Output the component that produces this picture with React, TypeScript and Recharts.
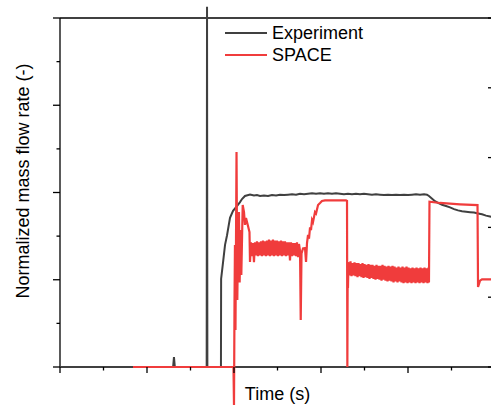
import React from 'react';
import { LineChart, Line, XAxis, YAxis, Legend } from 'recharts';

const FONT = '"Liberation Sans", Arial, Helvetica, sans-serif';
const GRAY = '#404040';
const RED = '#f03c3c';
const AXIS = '#000';

// tick positions (no tick labels in the original)
const timeTicks = [0, 0.5, 1, 1.5, 2, 2.5, 3, 3.5, 4, 4.5, 5];
const leftTicks = [0, 0.5, 1, 1.5, 2, 2.5, 3, 3.5, 4];
const rightTicks = [0, 1, 2, 3, 4, 5];

// Experiment: [time, normalized flow]
const experiment: [number, number][] = [
  [0, 0], [1.3, 0], [1.31, 0.115], [1.32, 0], [1.686, 0], [1.69, 4.13], [1.694, 0],
  [1.85, 0], [1.852, 1.01], [1.874, 1.2], [1.897, 1.4], [1.92, 1.51], [1.954, 1.71],
  [1.989, 1.79], [2.034, 1.845], [2.069, 1.89], [2.092, 1.925], [2.126, 1.96], [2.184, 1.977],
  [2.23, 1.965], [2.264, 1.97], [2.299, 1.96], [2.345, 1.965], [2.391, 1.96], [2.437, 1.97],
  [2.483, 1.965], [2.529, 1.975], [2.575, 1.97], [2.621, 1.975], [2.667, 1.98], [2.713, 1.975],
  [2.759, 1.985], [2.805, 1.98], [2.851, 1.985], [2.897, 1.99], [2.943, 1.985], [2.989, 1.99],
  [3.034, 1.985], [3.08, 1.99], [3.126, 1.985], [3.172, 1.99], [3.218, 1.985], [3.264, 1.98],
  [3.31, 1.985], [3.356, 1.98], [3.402, 1.985], [3.448, 1.98], [3.494, 1.985], [3.54, 1.98],
  [3.586, 1.975], [3.632, 1.98], [3.678, 1.975], [3.724, 1.97], [3.77, 1.975], [3.816, 1.97],
  [3.862, 1.975], [3.908, 1.97], [3.954, 1.975], [4.0, 1.97], [4.046, 1.975], [4.092, 1.98],
  [4.138, 1.975], [4.184, 1.98], [4.218, 1.975], [4.241, 1.96], [4.264, 1.94], [4.287, 1.92],
  [4.31, 1.9], [4.345, 1.88], [4.391, 1.86], [4.437, 1.845], [4.483, 1.83], [4.529, 1.81],
  [4.575, 1.795], [4.621, 1.785], [4.667, 1.78], [4.713, 1.775], [4.759, 1.77], [4.805, 1.76],
  [4.851, 1.75], [4.897, 1.735], [4.943, 1.725], [5.0, 1.71],
];

// SPACE: onset transient
const spaceLead: [number, number][] = [
  [0.839, 0], [1.994, 0], [2.0, -0.436], [2.006, 0.768], [2.011, 1.398], [2.017, 0.424],
  [2.029, 2.464], [2.038, 0.768], [2.046, 1.456], [2.057, 1.776], [2.065, 0.969], [2.075, 1.57],
  [2.084, 1.054], [2.1, 1.857], [2.115, 1.776], [2.126, 1.628], [2.138, 1.708], [2.161, 1.616],
  [2.178, 1.547], [2.184, 1.203],
];

// SPACE: first oscillating plateau, sampled every 0.0115 from t = 2.195
const band1Start = 2.195;
const band1 = [
  1.43, 1.27, 1.42, 1.2, 1.43, 1.28, 1.44, 1.27, 1.43, 1.28,
  1.44, 1.27, 1.45, 1.28, 1.44, 1.27, 1.45, 1.28, 1.46, 1.27,
  1.45, 1.28, 1.46, 1.27, 1.45, 1.28, 1.45, 1.27, 1.44, 1.28,
  1.45, 1.27, 1.44, 1.28, 1.44, 1.27, 1.43, 1.28, 1.43, 1.22,
  1.43, 1.27, 1.42, 1.28, 1.42, 1.27, 1.43, 1.26, 1.41,
];

// SPACE: dip, recovery to the high plateau and the drop
const spaceMid: [number, number][] = [
  [2.759, 1.33], [2.767, 0.539], [2.776, 1.3], [2.793, 1.36], [2.816, 1.364], [2.828, 1.203],
  [2.839, 1.42], [2.851, 1.513], [2.862, 1.47], [2.874, 1.6], [2.885, 1.57], [2.897, 1.685],
  [2.908, 1.66], [2.931, 1.776], [2.943, 1.76], [2.966, 1.857], [2.989, 1.88], [3.011, 1.903],
  [3.046, 1.91], [3.287, 1.91], [3.299, 1.903], [3.303, 0], [3.307, 1.203], [3.31, 0.905],
];

// SPACE: second oscillating plateau, sampled every 0.0115 from t = 3.316
const band2Start = 3.316;
const band2 = [
  1.2, 1.05, 1.21, 1.04, 1.19, 1.05, 1.2, 1.04, 1.19, 1.03,
  1.19, 1.04, 1.18, 1.03, 1.19, 1.02, 1.18, 1.03, 1.17, 1.02,
  1.18, 1.01, 1.17, 1.02, 1.17, 1.01, 1.16, 1.0, 1.17, 1.01,
  1.16, 1.0, 1.16, 0.99, 1.17, 1.0, 1.16, 0.99, 1.15, 0.98,
  1.16, 0.99, 1.15, 0.98, 1.16, 0.97, 1.15, 0.98, 1.14, 0.97,
  1.15, 0.98, 1.14, 0.97, 1.15, 0.96, 1.14, 0.97, 1.15, 0.96,
  1.14, 0.97, 1.13, 0.96, 1.14, 0.97, 1.13, 0.96, 1.14, 0.97,
  1.13, 0.96, 1.14, 0.97, 1.13, 0.96, 1.14, 0.97, 1.13, 0.96,
  1.14,
];

// SPACE: last plateau and tail
const spaceTail: [number, number][] = [
  [4.241, 0.97], [4.247, 1.895], [4.368, 1.88], [4.598, 1.865], [4.799, 1.855],
  [4.805, 0.917], [4.828, 0.99], [4.851, 1.005], [5.0, 1.005],
];

const sampleStep = 0.0115;

const pairsToRows = (pairs: [number, number][]) => pairs.map(([t, v]) => ({ t, v }));
const bandToRows = (start: number, values: number[]) =>
  values.map((v, i) => ({ t: +(start + i * sampleStep).toFixed(4), v }));

const experimentData = pairsToRows(experiment);
const spaceData = [
  ...pairsToRows(spaceLead),
  ...bandToRows(band1Start, band1),
  ...pairsToRows(spaceMid),
  ...bandToRows(band2Start, band2),
  ...pairsToRows(spaceTail),
];

const isMajor = (v: number) => Number.isInteger(v);

const LeftTick = ({ x, y, payload }: any) => {
  const len = isMajor(payload.value) ? 7 : 3.5;
  return <line x1={x - len} x2={x} y1={y} y2={y} stroke={AXIS} strokeWidth={1.3} />;
};

const BottomTick = ({ x, y, payload }: any) => {
  const len = isMajor(payload.value) ? 6 : 3.5;
  return <line x1={x} x2={x} y1={y} y2={y + len} stroke={AXIS} strokeWidth={1.3} />;
};

const TopTick = ({ x, y, payload }: any) => {
  const len = isMajor(payload.value) ? 6 : 3.5;
  return <line x1={x} x2={x} y1={y} y2={y + len} stroke={AXIS} strokeWidth={1.3} />;
};

const RightTick = ({ x, y }: any) => (
  <line x1={x - 7} x2={x} y1={y} y2={y} stroke={AXIS} strokeWidth={1.3} />
);

const YLabel = (props: any) => {
  const vb = props.viewBox || { x: 59, y: 18, width: 1, height: 349 };
  const cx = vb.x + vb.width - 31;
  const cy = vb.y + vb.height / 2 - 11.5;
  return (
    <text
      x={cx}
      y={cy}
      transform={`rotate(-90 ${cx} ${cy})`}
      textAnchor="middle"
      fontSize={18}
      fontFamily={FONT}
      fill="#000"
    >
      Normalized mass flow rate (-)
    </text>
  );
};

const renderLegend = (props: any) => {
  const { payload = [] } = props;
  return (
    <div style={{ fontFamily: FONT, fontSize: 18, color: '#000' }}>
      {payload.map((entry: any) => (
        <div key={entry.value} style={{ display: 'flex', alignItems: 'center', height: 22 }}>
          <svg width={42} height={22} style={{ display: 'block' }}>
            <line x1={0} x2={42} y1={11} y2={11} stroke={entry.color} strokeWidth={2} />
          </svg>
          <span style={{ marginLeft: 5, lineHeight: '22px', whiteSpace: 'nowrap' }}>{entry.value}</span>
        </div>
      ))}
    </div>
  );
};

export default function App() {
  return (
    <div
      style={{
        position: 'absolute',
        left: 0,
        top: 0,
        width: 491,
        height: 406,
        overflow: 'hidden',
        background: '#fff',
      }}
    >
      <style>{`.recharts-line, .recharts-line * { clip-path: none !important; }`}</style>
      <LineChart width={500} height={406} margin={{ top: 17, right: 4, bottom: 38, left: 59 }}>
        <XAxis
          xAxisId="time"
          type="number"
          dataKey="t"
          domain={[0, 5]}
          allowDataOverflow
          ticks={timeTicks}
          interval={0}
          height={1}
          tickSize={0}
          tickMargin={0}
          tickLine={false}
          tick={BottomTick}
          axisLine={{ stroke: AXIS, strokeWidth: 1.3 }}
          label={{ value: 'Time (s)', position: 'bottom', offset: 19, fill: '#000', fontSize: 18, fontFamily: FONT }}
        />
        <XAxis
          xAxisId="top"
          orientation="top"
          type="number"
          domain={[0, 5]}
          allowDataOverflow
          ticks={timeTicks}
          interval={0}
          height={1}
          tickSize={0}
          tickMargin={0}
          tickLine={false}
          tick={TopTick}
          axisLine={{ stroke: AXIS, strokeWidth: 1.3 }}
        />
        <YAxis
          yAxisId="left"
          type="number"
          domain={[0, 4]}
          allowDataOverflow
          ticks={leftTicks}
          interval={0}
          width={1}
          tickSize={0}
          tickMargin={0}
          tickLine={false}
          tick={LeftTick}
          axisLine={{ stroke: AXIS, strokeWidth: 1.3 }}
          label={YLabel}
        />
        <YAxis
          yAxisId="right"
          orientation="right"
          type="number"
          domain={[0, 5]}
          allowDataOverflow
          ticks={rightTicks}
          interval={0}
          width={1}
          tickSize={0}
          tickMargin={0}
          tickLine={false}
          tick={RightTick}
          axisLine={{ stroke: AXIS, strokeWidth: 1.3 }}
        />
        <Legend
          layout="horizontal"
          verticalAlign="middle"
          align="center"
          content={renderLegend}
          wrapperStyle={{ top: 22, left: 225, width: 'auto' }}
        />
        <Line
          xAxisId="time"
          yAxisId="left"
          name="Experiment"
          data={experimentData}
          dataKey="v"
          type="linear"
          stroke={GRAY}
          strokeWidth={2}
          dot={false}
          activeDot={false}
          isAnimationActive={false}
          zIndex={600}
        />
        <Line
          xAxisId="time"
          yAxisId="left"
          name="SPACE"
          data={spaceData}
          dataKey="v"
          type="linear"
          stroke={RED}
          strokeWidth={2.2}
          dot={false}
          activeDot={false}
          isAnimationActive={false}
          zIndex={610}
        />
      </LineChart>
    </div>
  );
}
